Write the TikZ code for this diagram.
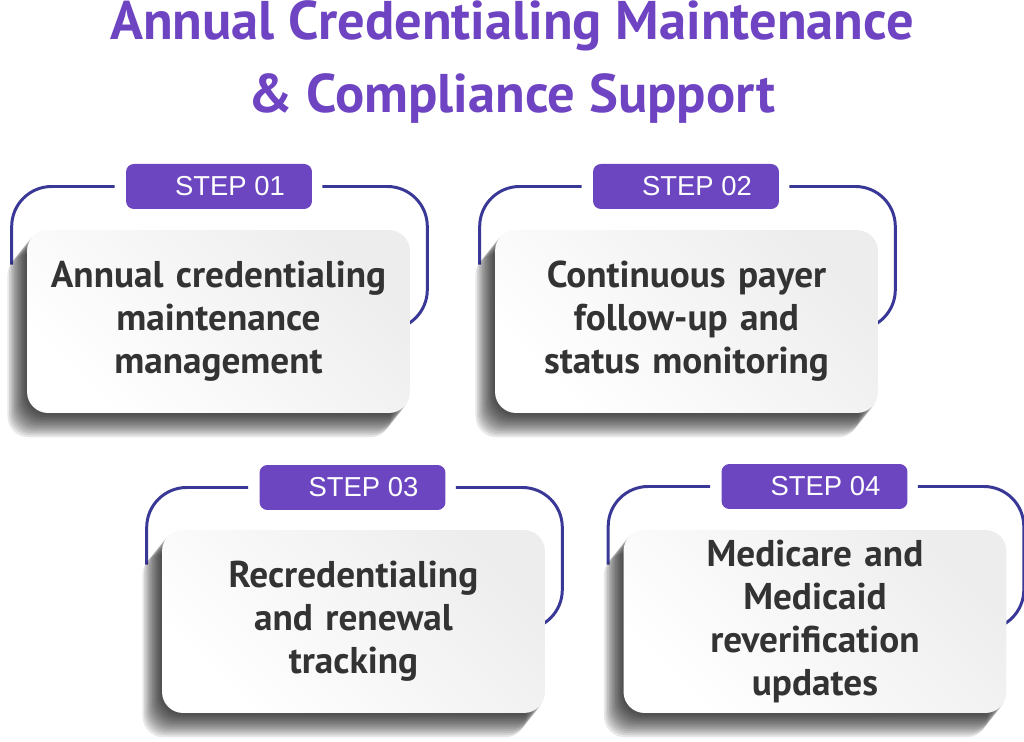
\documentclass[tikz,border=0pt]{standalone}
\usepackage{fontspec}
\setmainfont{PT Sans}
\setsansfont{Liberation Sans}
\usetikzlibrary{positioning,calc,backgrounds}
\definecolor{ACPurple}{RGB}{110,68,194}
\definecolor{ACTab}{RGB}{108,70,192}
\definecolor{ACLine}{RGB}{58,56,150}
\definecolor{ACText}{RGB}{51,51,51}

\begin{document}
\begin{tikzpicture}[x=0.02cm,y=-0.02cm,
  heading/.style={font=\bfseries\fontsize{31}{40}\selectfont,text=ACPurple,
                  anchor=base,inner sep=0pt},
  card/.style={top color=gray!14,bottom color=white,shading angle=-45,
               rounded corners=12pt,minimum width=7.66cm,minimum height=3.66cm,
               text width=7.4cm,align=center,text=ACText,
               font=\bfseries\fontsize{21.2}{24.5}\selectfont},
  tab/.style={fill=ACTab,rounded corners=4.5pt,minimum width=3.72cm,
              minimum height=0.9cm,text=white,inner sep=0pt,
              font=\sffamily\fontsize{15.6}{16}\selectfont,
              execute at begin node=\hspace*{0.44cm}},
  bracket/.style={draw=ACLine,line width=1.7pt,rounded corners=0.8cm},
]
\useasboundingbox (0,0) rectangle (1024,742);
\node[heading] (title) at (512,40) {Annual Credentialing Maintenance};
\node[heading] (subtitle) at (512,113) {\& Compliance Support};

\node[card] (c1) at (218.5,321.5) {Annual credentialing\\maintenance\\management};
\node[card] (c2) at (686.5,321.5) {Continuous payer\\follow-up and\\status monitoring};
\node[card] (c3) at (353.5,621.5) {Recredentialing\\and renewal\\tracking};
\node[card] (c4) at (815,621.5) {Medicare and\\Medicaid\\reverification\\updates};

\node[tab] (t1) at (219,186.5) {STEP 01};
\node[tab] (t2) at (686,186.5) {STEP 02};
\node[tab] (t3) at (352.5,487.5) {STEP 03};
\node[tab] (t4) at (814.5,486.5) {STEP 04};

% brackets and shadows behind the cards
\begin{scope}[on background layer]
\foreach \i in {1,...,4}{
  \draw[bracket] ($(c\i.north west)+(-15,35)$) |- ($(t\i.west)+(-11,0)$);
  \draw[bracket] ($(t\i.east)+(10,0)$) -| ($(c\i.north east)+(17,100)$)
                 -- ($(c\i.north east)+(-40,100)$);
  \foreach \s in {1,...,12}
    \fill[black,opacity=0.09,rounded corners=12pt]
      ($(c\i.south west)+(-1.6*\s,2*\s)$) rectangle ($(c\i.north east)+(-1.6*\s,2*\s)$);
}
\end{scope}
\end{tikzpicture}
\end{document}
